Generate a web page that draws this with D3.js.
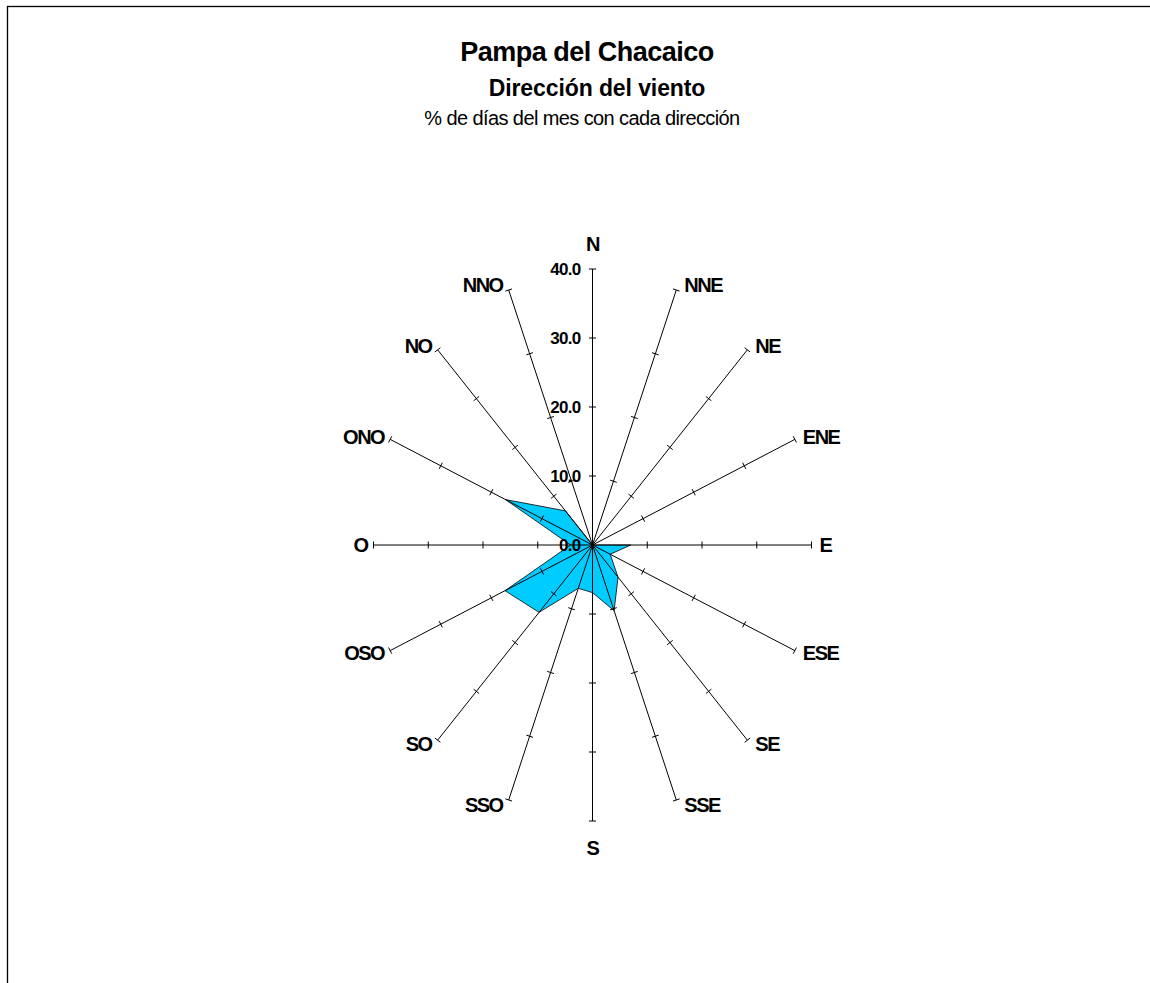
<!DOCTYPE html>
<html>
<head>
<meta charset="utf-8">
<script src="https://cdnjs.cloudflare.com/ajax/libs/d3/7.8.5/d3.min.js"></script>
<style>
  body { margin: 0; background: #fff; }
  svg { display: block; font-family: "Liberation Sans", Arial, sans-serif; }
</style>
</head>
<body>
<svg></svg>
<script>
const width = 1150;
const height = 983;

// direcciones del viento (sentido horario desde el N)
const directions = ["N", "NNE", "NE", "ENE", "E", "ESE", "SE", "SSE",
                    "S", "SSO", "SO", "OSO", "O", "ONO", "NO", "NNO"];
// % de días del mes con cada dirección
const percentages = [0, 0, 0, 0, 7.0, 3.5, 6.6, 10.3,
                     6.9, 6.8, 13.8, 17.3, 4.0, 17.2, 7.0, 0];
const tickValues = [0, 10, 20, 30, 40];

const svg = d3.select("svg")
  .attr("width", width)
  .attr("height", height);

// marco
svg.append("rect")
  .attr("x", 7.5).attr("y", 6.5)
  .attr("width", 1200).attr("height", 1100)
  .attr("fill", "none")
  .attr("stroke", "#000")
  .attr("stroke-width", 1.3);

// títulos
svg.append("text")
  .attr("x", 587).attr("y", 61)
  .attr("text-anchor", "middle")
  .attr("font-size", 27).attr("font-weight", "bold")
  .attr("letter-spacing", -0.5)
  .text("Pampa del Chacaico");

svg.append("text")
  .attr("x", 597).attr("y", 96)
  .attr("text-anchor", "middle")
  .attr("font-size", 23).attr("font-weight", "bold")
  .attr("letter-spacing", -0.1)
  .text("Dirección del viento");

svg.append("text")
  .attr("x", 582).attr("y", 125)
  .attr("text-anchor", "middle")
  .attr("font-size", 20)
  .attr("letter-spacing", -0.6)
  .text("% de días del mes con cada dirección");

// centro y escalas (el gráfico está estirado en vertical)
const cx = 592.5;
const cy = 545;
const rx = d3.scaleLinear().domain([0, 40]).range([0, 219]);
const ry = d3.scaleLinear().domain([0, 40]).range([0, 276]);
const angle = d3.scaleLinear().domain([0, directions.length]).range([0, 2 * Math.PI]);

const px = (i, v) => cx + rx(v) * Math.sin(angle(i));
const py = (i, v) => cy - ry(v) * Math.cos(angle(i));

// polígono de datos
const line = d3.line()
  .x((d, i) => px(i, d))
  .y((d, i) => py(i, d))
  .curve(d3.curveLinearClosed);

svg.append("path")
  .datum(percentages)
  .attr("d", line)
  .attr("fill", "#00CCFF")
  .attr("stroke", "#000")
  .attr("stroke-width", 0.8);

// ejes radiales
const axes = svg.append("g").attr("class", "axes");

directions.forEach((dir, i) => {
  axes.append("line")
    .attr("x1", cx).attr("y1", cy)
    .attr("x2", px(i, 40)).attr("y2", py(i, 40))
    .attr("stroke", "#000")
    .attr("stroke-width", 1);

  // marcas perpendiculares al eje
  const dx = px(i, 40) - cx;
  const dy = py(i, 40) - cy;
  const len = Math.hypot(dx, dy);
  const nx = -dy / len * 3.5;
  const ny = dx / len * 3.5;
  tickValues.slice(1).forEach(v => {
    axes.append("line")
      .attr("x1", px(i, v) - nx).attr("y1", py(i, v) - ny)
      .attr("x2", px(i, v) + nx).attr("y2", py(i, v) + ny)
      .attr("stroke", "#000")
      .attr("stroke-width", 1);
  });

  // etiqueta de dirección
  const s = Math.sin(angle(i));
  const c = Math.cos(angle(i));
  let lx, ly, anchor;
  if (Math.abs(s) < 0.01) {
    lx = px(i, 40);
    ly = py(i, 40) - (c > 0 ? 25 : -27);
    anchor = "middle";
  } else {
    lx = px(i, 40) + (s > 0 ? 8 : -6);
    ly = py(i, 40) - c * 5;
    anchor = s > 0 ? "start" : "end";
  }
  svg.append("text")
    .attr("x", lx).attr("y", ly)
    .attr("text-anchor", anchor)
    .attr("dominant-baseline", "central")
    .attr("font-size", 20).attr("font-weight", "bold")
    .attr("letter-spacing", -1.5)
    .text(dir);
});

// etiquetas del eje N
svg.append("g")
  .selectAll("text")
  .data(tickValues)
  .join("text")
  .attr("x", cx - 12)
  .attr("y", d => cy - ry(d))
  .attr("text-anchor", "end")
  .attr("dominant-baseline", "central")
  .attr("font-size", 17).attr("font-weight", "bold")
  .attr("letter-spacing", -0.7)
  .text(d => d3.format(".1f")(d));
</script>
</body>
</html>
